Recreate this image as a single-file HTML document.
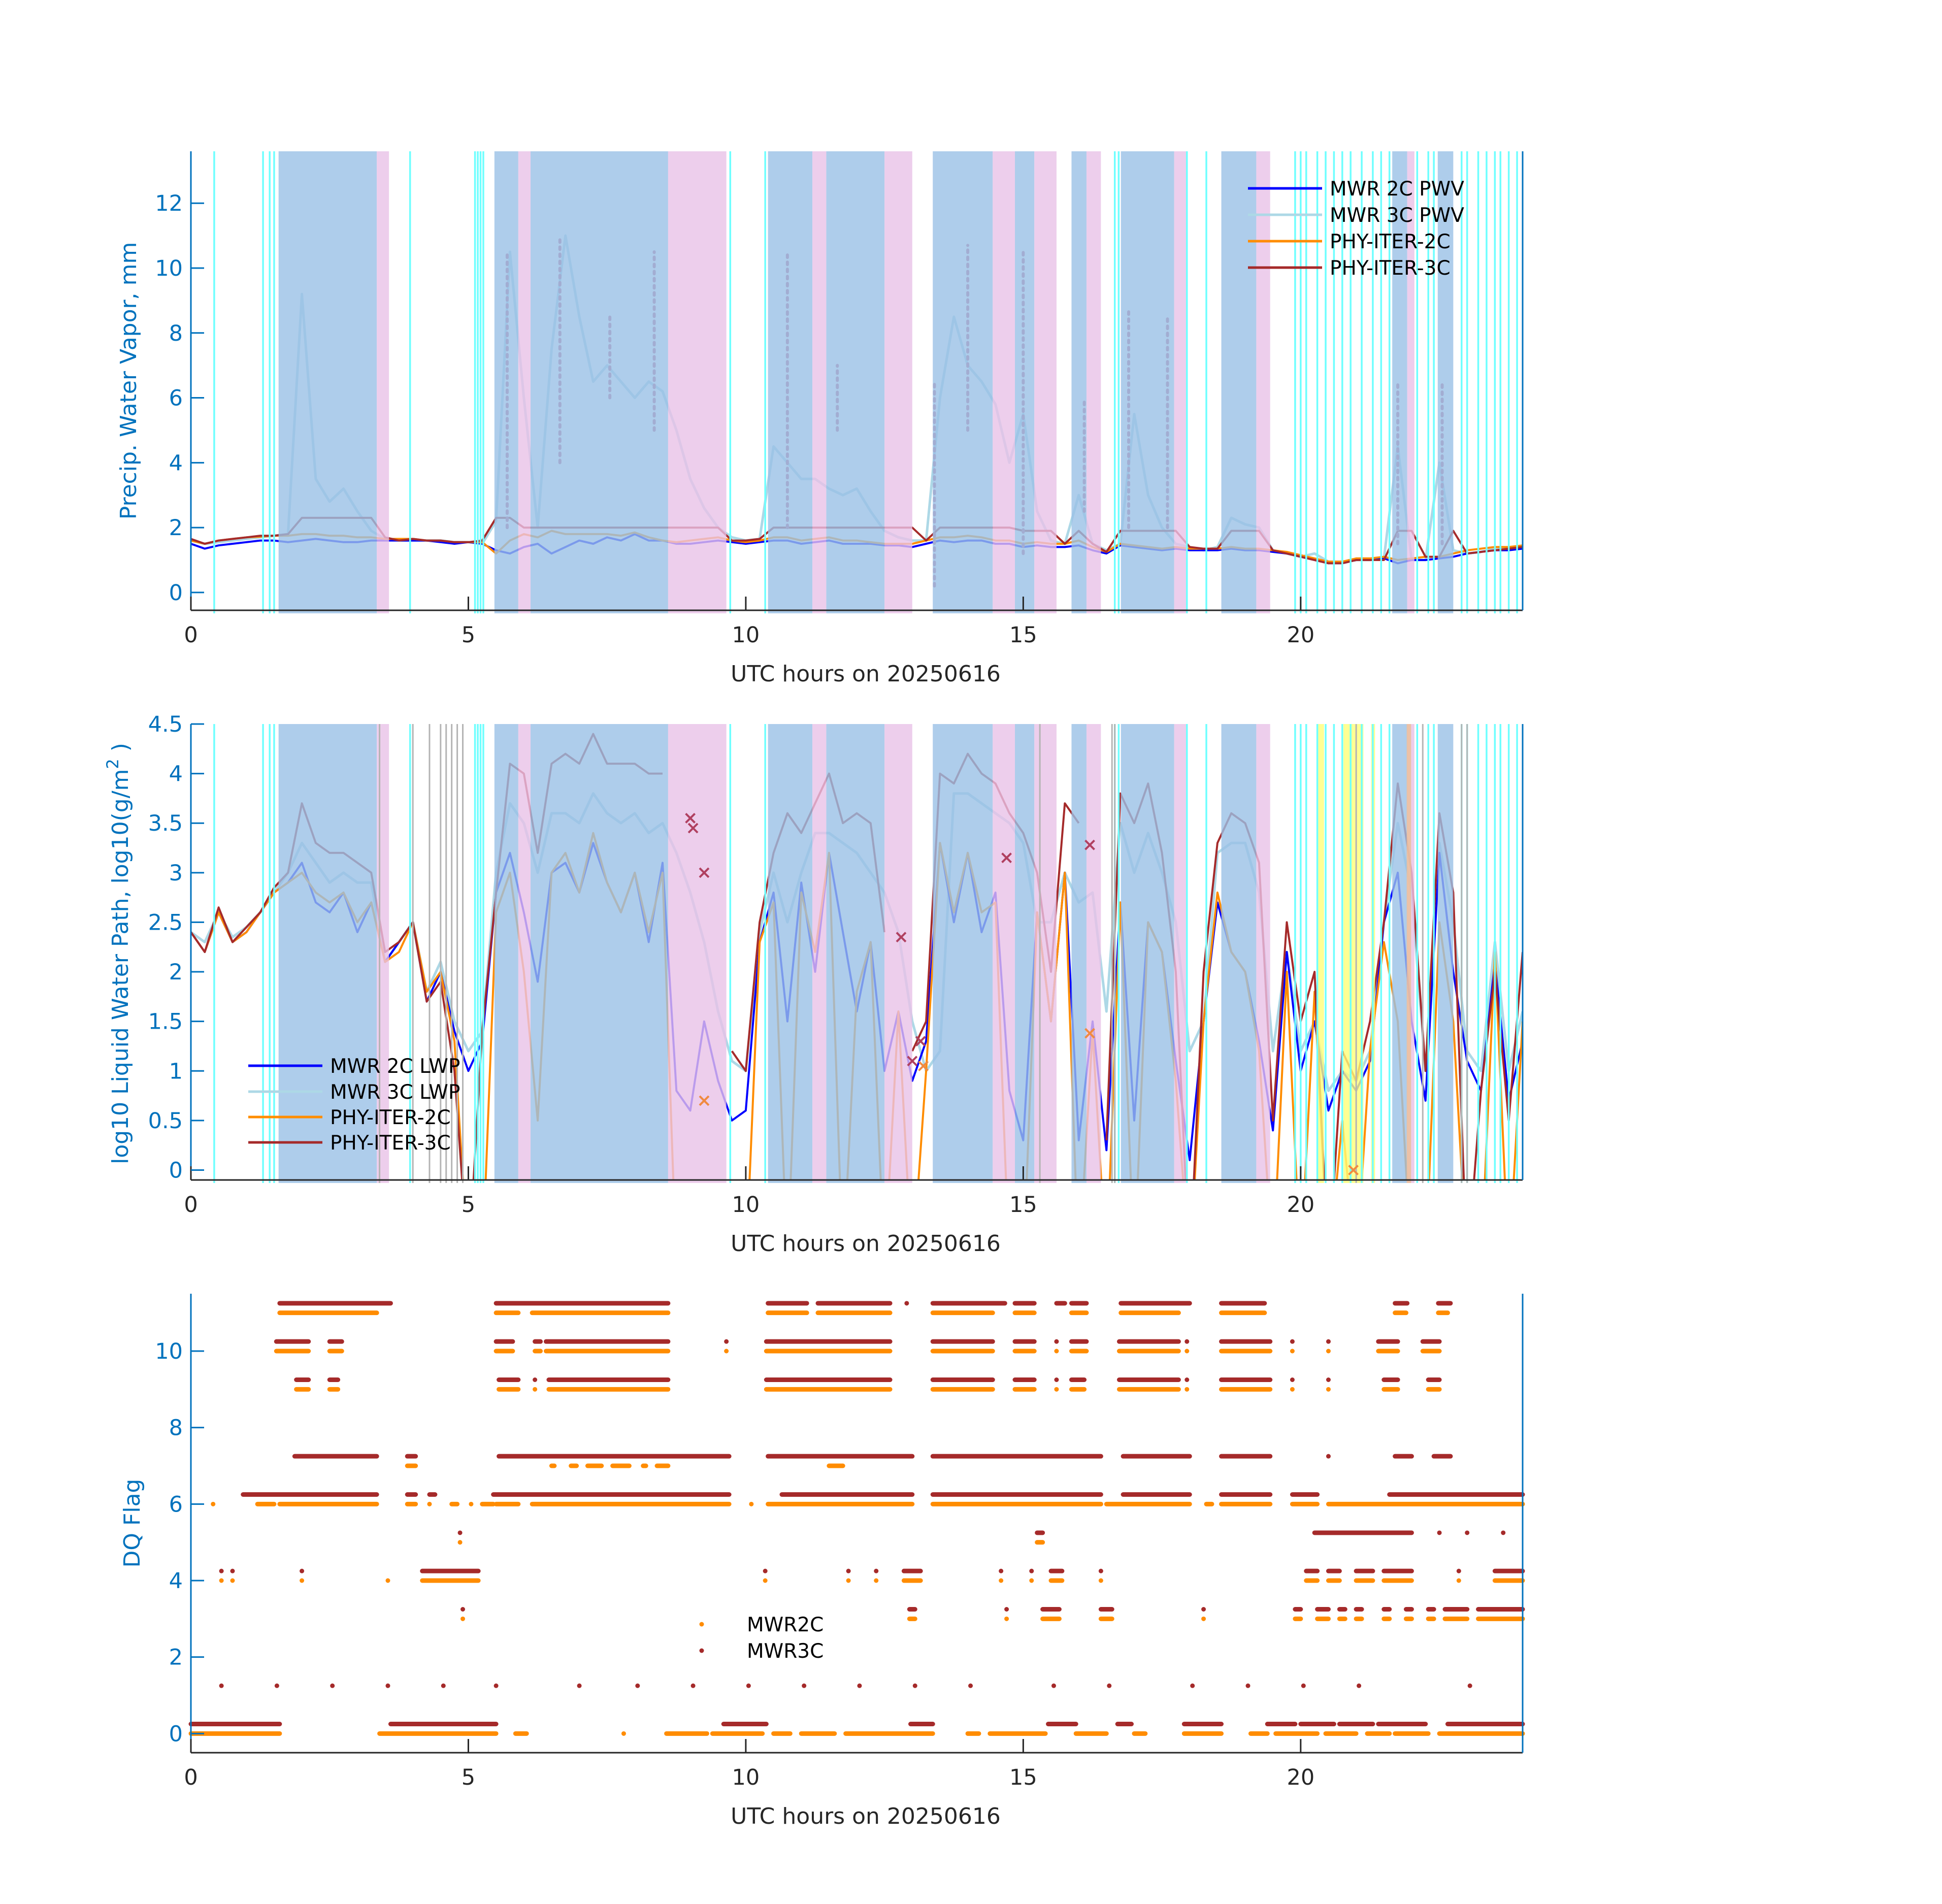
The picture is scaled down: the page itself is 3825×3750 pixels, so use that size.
<!DOCTYPE html>
<html><head><meta charset="utf-8"><style>
html,body{margin:0;padding:0;background:#fff;}
svg{display:block;font-family:"DejaVu Sans","Liberation Sans",sans-serif;}
</style></head><body>
<svg id="fig" width="3825" height="3750" viewBox="0 0 3825 3750" xmlns="http://www.w3.org/2000/svg">
<rect x="0" y="0" width="3825" height="3750" fill="#fff"/>
<g id="p1"></g>
<g id="p2"></g>
<g id="p3"></g>
</svg>
<script>
// ---------- shared x data ----------
const xTicks = [0,5,10,15,20];
const xTickLabels = ["0","5","10","15","20"];
// ---------- background spans ----------
const blueSpans = [[1.58,3.35],[5.47,5.9],[6.12,8.6],[10.4,11.2],[11.45,12.5],[13.37,14.45],[14.85,15.2],[15.87,16.14],[16.76,17.72],[18.57,19.2],[21.65,21.92],[22.47,22.75]];
const pinkSpans = [[3.35,3.57],[5.9,6.12],[8.6,9.65],[11.2,11.45],[12.5,13.0],[14.45,14.85],[15.2,15.6],[16.14,16.4],[17.72,17.95],[19.2,19.45],[21.92,22.05]];
const cyanLines = [0.42,1.3,1.42,1.5,3.95,5.12,5.17,5.22,5.27,9.72,10.35,16.65,16.72,17.95,18.3,19.9,20.0,20.1,20.3,20.45,20.6,20.75,20.9,21.1,21.3,21.45,21.6,22.1,22.3,22.4,22.9,23.0,23.2,23.35,23.5,23.6,23.75,23.9];
const yellowSpans = [[20.31,20.42],[20.77,21.13],[21.27,21.34]];
const grayLines = [3.4,4.0,4.3,4.5,4.6,4.7,4.8,4.9,15.3,16.6,16.65,21.0,22.2,22.9,23.0];
const peachSpans = [[21.91,21.99]];
// ---------- PWV panel data (0..24 h, 0.25 h step) ----------
const pwvTicks = [0,2,4,6,8,10,12];
const mwr2cPwv = [1.5,1.35,1.45,1.5,1.55,1.6,1.6,1.55,1.6,1.65,1.6,1.55,1.55,1.6,1.6,1.6,1.6,1.6,1.55,1.5,1.55,1.5,1.3,1.2,1.4,1.5,1.2,1.4,1.6,1.5,1.7,1.6,1.8,1.6,1.6,1.5,1.5,1.55,1.6,1.55,1.5,1.55,1.6,1.6,1.5,1.55,1.6,1.5,1.5,1.5,1.45,1.45,1.4,1.5,1.6,1.55,1.6,1.6,1.5,1.5,1.4,1.45,1.4,1.4,1.45,1.3,1.2,1.45,1.4,1.35,1.3,1.35,1.3,1.3,1.3,1.35,1.3,1.3,1.25,1.2,1.1,1.0,0.9,0.9,1.0,1.0,1.05,0.9,1.0,1.0,1.05,1.1,1.2,1.25,1.3,1.3,1.35];
const mwr3cPwv = [1.6,1.5,1.55,1.6,1.65,1.7,1.75,1.8,9.2,3.5,2.8,3.2,2.5,1.9,1.65,1.6,1.6,1.6,1.6,1.55,1.55,1.5,2.2,10.5,6.0,2.0,7.5,11.0,8.5,6.5,7.0,6.5,6.0,6.5,6.2,5.0,3.5,2.6,2.0,1.7,1.6,1.65,4.5,4.0,3.5,3.5,3.2,3.0,3.2,2.5,1.9,1.7,1.6,1.6,6.0,8.5,7.0,6.5,5.8,4.0,5.5,2.5,1.6,1.5,3.0,1.5,1.3,1.5,5.5,3.0,2.0,1.5,1.4,1.3,1.4,2.3,2.1,2.0,1.3,1.2,1.1,1.2,0.95,0.95,1.0,1.0,1.05,4.5,1.0,1.0,4.0,1.3,1.2,1.25,1.35,1.35,1.4];
const phy2cPwv = [1.6,1.5,1.6,1.65,1.7,1.72,1.75,1.75,1.8,1.8,1.75,1.75,1.7,1.7,1.65,1.65,1.65,1.6,1.6,1.55,1.55,1.55,1.2,1.6,1.8,1.7,1.9,1.8,1.8,1.8,1.8,1.75,1.85,1.7,1.6,1.55,1.6,1.65,1.7,1.6,1.55,1.6,1.7,1.7,1.6,1.65,1.7,1.6,1.6,1.55,1.5,1.5,1.5,1.6,1.7,1.7,1.75,1.7,1.6,1.6,1.5,1.55,1.5,1.5,1.6,1.4,1.25,1.5,1.45,1.4,1.35,1.4,1.35,1.35,1.35,1.4,1.35,1.35,1.3,1.25,1.15,1.05,0.95,0.95,1.05,1.05,1.1,1.0,1.05,1.1,1.1,1.2,1.3,1.35,1.4,1.4,1.45];
const phy3cPwv = [1.65,1.5,1.6,1.65,1.7,1.75,1.75,1.8,2.3,2.3,2.3,2.3,2.3,2.3,1.7,1.6,1.65,1.6,1.6,1.55,1.55,1.6,2.3,2.3,2.0,2.0,2.0,2.0,2.0,2.0,2.0,2.0,2.0,2.0,2.0,2.0,2.0,2.0,2.0,1.6,1.6,1.65,2.0,2.0,2.0,2.0,2.0,2.0,2.0,2.0,2.0,2.0,2.0,1.6,2.0,2.0,2.0,2.0,2.0,2.0,1.9,1.9,1.9,1.5,1.9,1.5,1.25,1.9,1.9,1.9,1.9,1.9,1.4,1.35,1.35,1.9,1.9,1.9,1.3,1.2,1.1,1.0,0.9,0.9,1.0,1.0,1.0,1.9,1.9,1.1,1.1,1.9,1.2,1.25,1.3,1.35,1.4];
const phy3cOutliers = [[5.7,2,10.5],[6.65,4,11],[7.55,6,8.5],[8.35,5,10.5],[10.75,2,10.5],[11.65,5,7],[13.4,0.2,6.5],[14.0,5,10.7],[15.0,1.2,10.5],[16.1,2.5,6],[16.9,2,8.7],[17.6,2,8.5],[21.75,1.5,6.5],[22.55,1.5,6.4]];
// ---------- LWP panel data ----------
const lwpTicks = [0,0.5,1,1.5,2,2.5,3,3.5,4,4.5];
const lwpTickLabels = ["0","0.5","1","1.5","2","2.5","3","3.5","4","4.5"];
const mwr2cLwp = [2.4,2.2,2.6,2.3,2.4,2.6,2.8,2.9,3.1,2.7,2.6,2.8,2.4,2.7,2.1,2.3,2.5,1.7,2.0,1.4,1.0,1.3,2.8,3.2,2.6,1.9,3.0,3.1,2.8,3.3,2.9,2.6,3.0,2.3,3.1,0.8,0.6,1.5,0.9,0.5,0.6,2.3,2.8,1.5,2.9,2.0,3.2,2.4,1.6,2.3,1.0,1.6,0.9,1.3,3.3,2.5,3.2,2.4,2.8,0.8,0.3,2.6,1.5,3.0,0.3,1.5,0.2,2.7,0.5,2.5,2.2,1.1,0.1,1.5,2.7,2.2,2.0,1.3,0.4,2.2,1.0,1.5,0.6,1.0,0.8,1.1,2.5,3.0,1.5,0.7,3.2,2.0,1.1,0.8,2.1,0.7,1.3];
const mwr3cLwp = [2.4,2.3,2.6,2.35,2.45,2.6,2.8,3.0,3.3,3.1,2.9,3.0,2.9,2.9,2.1,2.3,2.5,1.8,2.1,1.5,1.2,1.4,3.0,3.7,3.5,3.0,3.6,3.6,3.5,3.8,3.6,3.5,3.6,3.4,3.5,3.2,2.8,2.3,1.6,1.1,1.0,2.4,3.0,2.5,3.0,3.4,3.4,3.3,3.2,3.0,2.8,2.4,1.5,1.0,1.2,3.8,3.8,3.7,3.6,3.5,3.3,2.5,2.5,3.0,2.7,2.8,1.6,3.5,3.0,3.4,3.0,2.5,1.2,1.5,3.2,3.3,3.3,2.8,1.2,2.2,1.2,1.5,0.8,1.0,0.9,1.2,2.5,3.5,2.8,1.0,3.3,2.5,1.2,1.0,2.3,1.0,1.6];
const phy2cLwp = [2.4,2.2,2.6,2.3,2.4,2.6,2.8,2.9,3.0,2.8,2.7,2.8,2.5,2.7,2.1,2.2,2.5,1.8,2.0,1.3,-1,-1,2.6,3.0,2.0,0.5,3.0,3.2,2.8,3.4,2.9,2.6,3.0,2.4,3.0,-1,-1,-1,-1,-1,-1,2.3,2.7,-1,2.8,2.2,3.2,-1,1.8,2.3,-1,1.6,-1,1.0,3.3,2.6,3.2,2.6,2.7,-1,-1,2.6,1.5,3.0,-1,1.4,-1,2.7,-1,2.5,2.2,0.9,-1,1.5,2.8,2.2,2.0,1.2,-1,2.0,-1,1.8,-1,0.5,-1,1.2,2.3,1.5,-1,-1,2.5,1.5,-1,-1,2.2,-1,1.5];
const phy3cLwp = [2.4,2.2,2.65,2.3,2.45,2.6,2.85,3.0,3.7,3.3,3.2,3.2,3.1,3.0,2.2,2.3,2.5,1.7,1.9,1.0,-1,1.4,2.8,4.1,4.0,3.2,4.1,4.2,4.1,4.4,4.1,4.1,4.1,4.0,4.0,null,null,null,null,1.2,1.0,2.5,3.2,3.6,3.4,3.7,4.0,3.5,3.6,3.5,2.4,null,1.2,1.5,4.0,3.9,4.2,4.0,3.9,3.6,3.4,3.0,2.0,3.7,3.5,null,0.3,3.8,3.5,3.9,3.2,2.0,-1,2.0,3.3,3.6,3.5,3.1,0.5,2.5,1.5,2.0,-1,1.2,0.9,1.5,2.5,3.9,3.0,1.0,3.6,2.8,-1,0.8,2.0,0.5,2.2];
const phy3cFailX = [[9.0,3.55],[9.05,3.45],[9.25,3.0],[12.8,2.35],[13.0,1.1],[13.15,1.3],[14.7,3.15],[16.2,3.28]];
const phy2cFailX = [[9.25,0.7],[13.2,1.05],[16.2,1.38],[20.95,0.0]];
// ---------- DQ flag data: [flag, startHour, endHour] ----------
const dqTicks = [0,2,4,6,8,10];
const dq3cRuns = [
[11,1.6,3.6],[11,5.5,8.6],[11,10.4,11.1],[11,11.3,12.6],[11,12.9,12.9],[11,13.37,14.67],[11,14.85,15.2],[11,15.6,15.75],[11,15.87,16.14],[11,16.76,18.0],[11,18.57,19.35],[11,21.7,21.92],[11,22.48,22.7],
[10,1.54,2.12],[10,2.5,2.72],[10,5.5,5.8],[10,6.2,6.3],[10,6.4,8.6],[10,9.65,9.65],[10,10.37,12.6],[10,13.37,14.45],[10,14.85,15.2],[10,15.6,15.6],[10,15.87,16.14],[10,16.73,17.8],[10,17.95,17.95],[10,18.57,19.45],[10,19.85,19.85],[10,20.5,20.5],[10,21.4,21.75],[10,22.2,22.5],
[9,1.9,2.12],[9,2.5,2.65],[9,5.55,5.9],[9,6.2,6.2],[9,6.45,8.6],[9,10.37,12.6],[9,13.37,14.45],[9,14.85,15.2],[9,15.6,15.6],[9,15.87,16.1],[9,16.73,17.8],[9,17.95,17.95],[9,18.57,19.45],[9,19.85,19.85],[9,20.5,20.5],[9,21.5,21.75],[9,22.3,22.5],
[7,1.87,3.35],[7,3.9,4.05],[7,5.55,9.7],[7,10.4,13.0],[7,13.37,16.4],[7,16.8,18.0],[7,18.57,19.45],[7,20.5,20.5],[7,21.7,22.0],[7,22.4,22.7],
[6,0.94,3.35],[6,3.9,4.05],[6,4.3,4.4],[6,5.45,9.7],[6,10.65,13.0],[6,13.37,16.4],[6,16.8,18.0],[6,18.57,19.45],[6,19.85,20.3],[6,21.6,24],
[5,4.85,4.85],[5,15.25,15.35],[5,20.25,22.0],[5,22.5,22.5],[5,23.0,23.0],[5,23.65,23.65],
[4,0.55,0.55],[4,0.75,0.75],[4,2.0,2.0],[4,4.17,5.18],[4,10.35,10.35],[4,11.85,11.85],[4,12.35,12.35],[4,12.85,13.15],[4,14.6,14.6],[4,15.15,15.15],[4,15.5,15.7],[4,16.4,16.4],[4,20.1,20.3],[4,20.5,20.7],[4,21.0,21.3],[4,21.5,22.0],[4,22.85,22.85],[4,23.5,24],
[3,4.9,4.9],[3,12.95,13.05],[3,14.7,14.7],[3,15.35,15.65],[3,16.4,16.6],[3,18.25,18.25],[3,19.9,20.0],[3,20.3,20.5],[3,20.7,20.8],[3,21.0,21.1],[3,21.5,21.6],[3,21.9,22.0],[3,22.3,22.4],[3,22.6,23.0],[3,23.2,24],
[1,0.55,0.55],[1,1.55,1.55],[1,2.55,2.55],[1,3.55,3.55],[1,4.55,4.55],[1,5.5,5.5],[1,7.0,7.0],[1,8.05,8.05],[1,9.05,9.05],[1,10.05,10.05],[1,11.05,11.05],[1,12.05,12.05],[1,13.05,13.05],[1,14.05,14.05],[1,15.55,15.55],[1,16.55,16.55],[1,18.05,18.05],[1,19.05,19.05],[1,20.05,20.05],[1,21.05,21.05],[1,23.05,23.05],
[0,0,1.6],[0,3.6,5.5],[0,9.6,10.37],[0,12.97,13.37],[0,15.45,15.95],[0,16.7,16.95],[0,17.9,18.57],[0,19.4,19.9],[0,20.0,20.6],[0,20.7,21.3],[0,21.4,22.25],[0,22.65,24]];
const dq2cRuns = [
[11,1.6,3.35],[11,5.5,5.9],[11,6.15,8.6],[11,10.4,11.1],[11,11.3,12.6],[11,13.37,14.45],[11,14.85,15.2],[11,15.87,16.14],[11,16.76,17.8],[11,18.57,19.35],[11,21.7,21.9],[11,22.48,22.65],
[10,1.54,2.12],[10,2.5,2.72],[10,5.5,5.8],[10,6.2,6.3],[10,6.4,8.6],[10,9.65,9.65],[10,10.37,12.6],[10,13.37,14.45],[10,14.85,15.2],[10,15.6,15.6],[10,15.87,16.14],[10,16.73,17.8],[10,17.95,17.95],[10,18.57,19.45],[10,19.85,19.85],[10,20.5,20.5],[10,21.4,21.75],[10,22.2,22.5],
[9,1.9,2.12],[9,2.5,2.65],[9,5.55,5.9],[9,6.2,6.2],[9,6.45,8.6],[9,10.37,12.6],[9,13.37,14.45],[9,14.85,15.2],[9,15.6,15.6],[9,15.87,16.1],[9,16.73,17.8],[9,17.95,17.95],[9,18.57,19.45],[9,19.85,19.85],[9,20.5,20.5],[9,21.5,21.75],[9,22.3,22.5],
[7,3.9,4.05],[7,6.5,6.55],[7,6.85,6.95],[7,7.15,7.4],[7,7.6,7.9],[7,8.15,8.2],[7,8.4,8.6],[7,11.5,11.75],
[6,0.4,0.4],[6,1.2,1.5],[6,1.6,3.35],[6,3.9,4.05],[6,4.3,4.3],[6,4.7,4.8],[6,5.05,5.05],[6,5.25,5.45],[6,5.5,5.9],[6,6.15,9.7],[6,10.1,10.1],[6,10.4,13.0],[6,13.37,16.4],[6,16.5,18.0],[6,18.3,18.4],[6,18.57,19.45],[6,19.85,20.3],[6,20.5,24],
[5,4.85,4.85],[5,15.25,15.35],
[4,0.55,0.55],[4,0.75,0.75],[4,2.0,2.0],[4,3.55,3.55],[4,4.17,5.18],[4,10.35,10.35],[4,11.85,11.85],[4,12.35,12.35],[4,12.85,13.15],[4,14.6,14.6],[4,15.15,15.15],[4,15.5,15.7],[4,16.4,16.4],[4,20.1,20.3],[4,20.5,20.7],[4,21.0,21.3],[4,21.5,22.0],[4,22.85,22.85],[4,23.5,24],
[3,4.9,4.9],[3,12.95,13.05],[3,14.7,14.7],[3,15.35,15.65],[3,16.4,16.6],[3,18.25,18.25],[3,19.9,20.0],[3,20.3,20.5],[3,20.7,20.8],[3,21.0,21.1],[3,21.5,21.6],[3,21.9,22.0],[3,22.3,22.4],[3,22.6,23.0],[3,23.2,24],
[0,0,1.6],[0,3.4,5.5],[0,5.85,6.05],[0,7.8,7.8],[0,8.57,9.3],[0,9.4,10.3],[0,10.5,10.8],[0,11.0,11.6],[0,11.8,13.37],[0,14.0,14.2],[0,14.4,15.4],[0,15.95,16.5],[0,17.0,17.2],[0,17.9,18.57],[0,19.1,19.4],[0,19.55,20.3],[0,20.45,21.0],[0,21.2,21.6],[0,21.7,22.3],[0,22.5,24]];

// ---------- helpers ----------
const NS = "http://www.w3.org/2000/svg";
const X0 = 376, X1 = 2999;
function sx(h){ return X0 + (X1-X0)*h/24; }
function mk(tag, attrs, parent){ const e=document.createElementNS(NS,tag); for(const k in attrs) e.setAttribute(k,attrs[k]); parent.appendChild(e); return e; }
function makeY(top,bottom,vmin,vmax){ return v => bottom - (v-vmin)/(vmax-vmin)*(bottom-top); }

function drawSpans(g, top, bottom, spans, color, op, name){
  spans.forEach(s=>{
    const r = mk('rect',{x:sx(s[0]),y:top,width:Math.max(2,sx(s[1])-sx(s[0])),height:bottom-top+6,fill:color,opacity:op},g);
    
    
  });
}
function drawVLines(g, top, bottom, hours, color, w, name){
  hours.forEach(h=>{
    const l = mk('line',{x1:sx(h),x2:sx(h),y1:top,y2:bottom+6,stroke:color,'stroke-width':w},g);
    
    
  });
}
function drawSeries(g, vals, Y, color, w, name, op){
  let d = "", pen=false;
  const n = vals.length;
  vals.forEach((v,i)=>{
    if(v===null){ pen=false; return; }
    const x = sx(i*24/(n-1)), y = Y(v);
    d += (pen?"L":"M")+x.toFixed(1)+","+y.toFixed(1);
    pen = true;
  });
  const p = mk('path',{d:d,fill:'none',stroke:color,'stroke-width':w,'stroke-linejoin':'round',opacity:op||1},g);
  
  
}
function drawAxes(g, top, bottom, Y, ticks, labels, xlabelY, titleY){
  const xa = mk('line',{x1:X0,x2:X1,y1:bottom,y2:bottom,stroke:'#262626','stroke-width':3},g);
  
  
  const ya = mk('line',{x1:X0,x2:X0,y1:top,y2:bottom,stroke:'#0072BD','stroke-width':3},g);
  
  
  const ra = mk('line',{x1:X1,x2:X1,y1:top,y2:bottom,stroke:'#0072BD','stroke-width':3},g);
  
  
  xTicks.forEach((t,i)=>{
    const tl = mk('line',{x1:sx(t),x2:sx(t),y1:bottom,y2:bottom-27,stroke:'#262626','stroke-width':3},g);
    
    
    const tx = mk('text',{x:sx(t),y:xlabelY,'font-size':43,fill:'#262626','text-anchor':'middle'},g);
    tx.textContent = xTickLabels[i];
    
    
  });
  ticks.forEach((t,i)=>{
    const tl = mk('line',{x1:X0,x2:X0+26,y1:Y(t),y2:Y(t),stroke:'#0072BD','stroke-width':3},g);
    
    
    const tx = mk('text',{x:X0-16,y:Y(t)+15,'font-size':43,fill:'#0072BD','text-anchor':'end'},g);
    tx.textContent = labels[i];
    
    
  });
  const xt = mk('text',{x:1705,y:titleY,'font-size':44,fill:'#262626','text-anchor':'middle'},g);
  xt.textContent = "UTC hours on 20250616";
  
  
}
function legendLine(g,x,y,color,label,op){
  const l = mk('line',{x1:x,x2:x+146,y1:y,y2:y,stroke:color,'stroke-width':5,opacity:op||1},g);
  
  
  const t = mk('text',{x:x+161,y:y+14,'font-size':39,fill:'#000'},g);
  t.textContent = label;
  
  
}

// ---------- Panel 1 ----------
(function(){
  const g = document.getElementById('p1');
  const top=298, bottom=1202;
  const Y = makeY(top,bottom,-0.55,13.6);
  const cp = mk('clipPath',{id:'c1'},g); mk('rect',{x:X0,y:top,width:X1-X0,height:bottom-top},cp);
  const d = mk('g',{'clip-path':'url(#c1)'},g);
  drawSeries(d, mwr3cPwv, Y, '#add8e6', 5, 'mwr-3c-pwv-line');
  drawSeries(d, mwr2cPwv, Y, '#0000ff', 4, 'mwr-2c-pwv-line');
  drawSeries(d, phy2cPwv, Y, '#ff8c00', 4, 'phy-iter-2c-line');
  drawSeries(d, phy3cPwv, Y, '#a52a2a', 4, 'phy-iter-3c-line');
  phy3cOutliers.forEach(o=>{
    const l = mk('line',{x1:sx(o[0]),x2:sx(o[0]),y1:Y(o[1]),y2:Y(o[2]),stroke:'#c06080','stroke-width':6,'stroke-dasharray':'5 9','stroke-linecap':'round'},d);
    
    
  });
  drawSpans(g, top, bottom, blueSpans, 'rgb(154,192,230)', 0.8, 'retrieval-blue-span');
  drawSpans(g, top, bottom, pinkSpans, 'rgb(233,194,231)', 0.8, 'retrieval-pink-span');
  drawVLines(g, top, bottom, cyanLines, 'rgb(110,255,255)', 3.5, 'cyan-flag-line');
  drawAxes(g, top, bottom, Y, pwvTicks, pwvTicks.map(String), 1265, 1342);
  const yt = mk('text',{x:0,y:0,'font-size':44,fill:'#0072BD','text-anchor':'middle',transform:'translate(268,750) rotate(-90)'},g);
  yt.textContent = "Precip. Water Vapor, mm";
  
  
  const lg = mk('g',{},g);
  
  
  legendLine(lg,2458,371,'#0000ff','MWR 2C PWV');
  legendLine(lg,2458,423,'#add8e6','MWR 3C PWV');
  legendLine(lg,2458,475,'#ff8c00','PHY-ITER-2C');
  legendLine(lg,2458,527,'#a52a2a','PHY-ITER-3C');
})();

// ---------- Panel 2 ----------
(function(){
  const g = document.getElementById('p2');
  const top=1426, bottom=2324;
  const Y = makeY(top,bottom,-0.1,4.5);
  const cp = mk('clipPath',{id:'c2'},g); mk('rect',{x:X0,y:top,width:X1-X0,height:bottom-top},cp);
  const d = mk('g',{'clip-path':'url(#c2)'},g);
  drawSeries(d, mwr3cLwp, Y, '#add8e6', 5, 'mwr-3c-lwp-line');
  drawSeries(d, mwr2cLwp, Y, '#0000ff', 4, 'mwr-2c-lwp-line');
  drawSeries(d, phy2cLwp, Y, '#ff8c00', 4, 'phy-iter-2c-line');
  drawSeries(d, phy3cLwp, Y, '#a52a2a', 4, 'phy-iter-3c-line');
  drawSpans(g, top, bottom, blueSpans, 'rgb(154,192,230)', 0.8, 'retrieval-blue-span');
  drawSpans(g, top, bottom, pinkSpans, 'rgb(233,194,231)', 0.8, 'retrieval-pink-span');
  drawSpans(g, top, bottom, yellowSpans, 'rgb(255,255,120)', 0.8, 'retrieval-yellow-span');
  drawSpans(g, top, bottom, peachSpans, 'rgb(235,190,150)', 0.8, 'retrieval-peach-span');
  drawVLines(g, top, bottom, cyanLines, 'rgb(110,255,255)', 3.5, 'cyan-flag-line');
  drawVLines(g, top, bottom, grayLines, 'rgb(180,180,180)', 3, 'gray-flag-line');
  function xMark(p,color){
    const x=sx(p[0]), y=Y(p[1]), s=9;
    const e = mk('path',{d:`M${x-s},${y-s}L${x+s},${y+s}M${x-s},${y+s}L${x+s},${y-s}`,stroke:color,'stroke-width':4},g);
    
    
  }
  phy3cFailX.forEach(p=>xMark(p,'#b04060'));
  phy2cFailX.forEach(p=>xMark(p,'#f08a40'));
  drawAxes(g, top, bottom, Y, lwpTicks, lwpTickLabels, 2387, 2464);
  const yt = mk('text',{x:0,y:0,'font-size':44,fill:'#0072BD','text-anchor':'middle',transform:'translate(252,1878) rotate(-90)'},g);
  yt.innerHTML = 'log10 Liquid Water Path, log10(g/m<tspan baseline-shift="super" font-size="32">2</tspan> )';
  
  
  const lg = mk('g',{},g);
  
  
  legendLine(lg,489,2099,'#0000ff','MWR 2C LWP');
  legendLine(lg,489,2150,'#add8e6','MWR 3C LWP');
  legendLine(lg,489,2200,'#ff8c00','PHY-ITER-2C');
  legendLine(lg,489,2250,'#a52a2a','PHY-ITER-3C');
})();

// ---------- Panel 3 ----------
(function(){
  const g = document.getElementById('p3');
  const top=2548, bottom=3452;
  const Y = makeY(top,bottom,-0.5,11.5);
  function runs(arr, offset, color, name){
    arr.forEach(r=>{
      const y = Y(r[0]+offset);
      if(r[1]===r[2]){
        const c = mk('circle',{cx:sx(r[1]),cy:y,r:4.5,fill:color},g);
        
        
      } else {
        const l = mk('line',{x1:sx(r[1]),x2:sx(r[2]),y1:y,y2:y,stroke:color,'stroke-width':9,'stroke-linecap':'round'},g);
        
        
      }
    });
  }
  runs(dq2cRuns, 0, '#ff8c00', 'mwr2c-dq-points');
  runs(dq3cRuns, 0.25, '#a52a2a', 'mwr3c-dq-points');
  drawAxes(g, top, bottom, Y, dqTicks, dqTicks.map(String), 3515, 3592);
  const yt = mk('text',{x:0,y:0,'font-size':44,fill:'#0072BD','text-anchor':'middle',transform:'translate(275,3000) rotate(-90)'},g);
  yt.textContent = "DQ Flag";
  
  
  const lg = mk('g',{},g);
  
  
  const c1 = mk('circle',{cx:1382,cy:3199,r:4.5,fill:'#ff8c00'},lg);
  
  
  const t1 = mk('text',{x:1471,y:3213,'font-size':39,fill:'#000'},lg);
  t1.textContent='MWR2C';
  
  
  const c2 = mk('circle',{cx:1382,cy:3251,r:4.5,fill:'#a52a2a'},lg);
  
  
  const t2 = mk('text',{x:1471,y:3265,'font-size':39,fill:'#000'},lg);
  t2.textContent='MWR3C';
  
  
})();
</script>
</body></html>
